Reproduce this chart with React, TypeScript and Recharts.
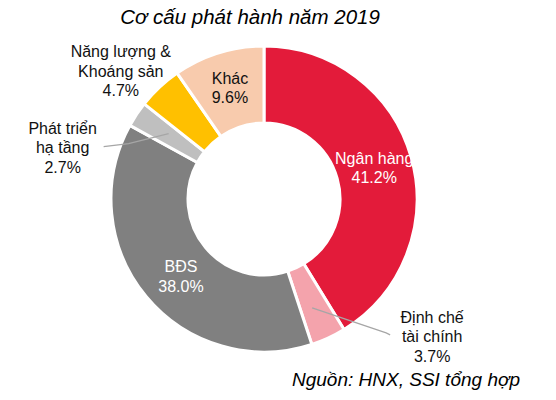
import React from 'react';
import { PieChart, Pie, Cell } from 'recharts';

// Issuance structure 2019, clockwise from 12 o'clock
const categories = ['Ngân hàng', 'Định chế tài chính', 'BĐS', 'Phát triển hạ tầng', 'Năng lượng & Khoáng sản', 'Khác'];
const shares = [41.2, 3.7, 38.0, 2.7, 4.7, 9.6];
const sliceColors = ['#E31B3A', '#F4A3AC', '#808080', '#BFBFBF', '#FFC000', '#F8CBAD'];
const labelLines = [['Ngân hàng'], ['Định chế', 'tài chính'], ['BĐS'], ['Phát triển', 'hạ tầng'], ['Năng lượng &', 'Khoáng sản'], ['Khác']];

const chartData = categories.map((name, i) => ({ name, value: shares[i] }));

type Placement = { dx: number; dy: number; color: string; leader?: [number, number][] };

// label offsets from each slice's mid-ring point
const placements: Placement[] = [
    { dx: 0, dy: 0, color: '#fff' },
    { dx: 120, dy: 34, color: '#111', leader: [[0, 5], [74, 30], [78, 32]] },
    { dx: 5, dy: 4, color: '#fff' },
    { dx: -106, dy: 12, color: '#111', leader: [[0, -2], [-40, 8], [-65, 11]] },
    { dx: -65, dy: -44, color: '#111' },
    { dx: 0, dy: -2, color: '#111' },
];

const FONT = '"Liberation Sans", Arial, sans-serif';
const LINE_H = 19.5;

const renderLabel = (props: any) => {
    const { cx, cy, midAngle, innerRadius, outerRadius, index } = props;
    const RAD = Math.PI / 180;
    const r = (innerRadius + outerRadius) / 2;
    const ax = cx + r * Math.cos(-midAngle * RAD);
    const ay = cy + r * Math.sin(-midAngle * RAD);
    const p = placements[index];
    const tx = ax + p.dx;
    const ty = ay + p.dy;
    const lines = [...labelLines[index], `${shares[index].toFixed(1)}%`];
    const startY = ty - ((lines.length - 1) * LINE_H) / 2;
    return (
        <g key={`lbl-${index}`}>
            {p.leader && (
                <polyline
                    points={p.leader.map(([x, y]) => `${ax + x},${ay + y}`).join(' ')}
                    fill="none"
                    stroke="#A6A6A6"
                    strokeWidth={1.2}
                />
            )}
            <text x={tx} y={startY} textAnchor="middle" fill={p.color} fontSize={16} fontFamily={FONT}>
                {lines.map((l, i) => (
                    <tspan key={i} x={tx} y={startY + i * LINE_H} dy="0.35em">
                        {l}
                    </tspan>
                ))}
            </text>
        </g>
    );
};

export default function App() {
    return (
        <div style={{ position: 'relative', width: 556, height: 400, background: '#fff', fontFamily: FONT }}>
            <style>{'body{margin:0}'}</style>
            <div
                style={{
                    position: 'absolute', left: 0, top: 5, width: 500, textAlign: 'center',
                    fontSize: 20.5, fontStyle: 'italic', lineHeight: '24px', color: '#000',
                }}
            >
                Cơ cấu phát hành năm 2019
            </div>
            <PieChart width={556} height={400} margin={{ top: 0, right: 0, bottom: 0, left: 0 }}>
                <Pie
                    data={chartData}
                    dataKey="value"
                    nameKey="name"
                    cx={264}
                    cy={199}
                    innerRadius={76}
                    outerRadius={153}
                    startAngle={90}
                    endAngle={-270}
                    stroke="#fff"
                    strokeWidth={3}
                    label={renderLabel}
                    labelLine={false}
                    isAnimationActive={false}
                >
                    {chartData.map((d, i) => (
                        <Cell key={d.name} fill={sliceColors[i]} />
                    ))}
                </Pie>
            </PieChart>
            <div
                style={{
                    position: 'absolute', left: 292, top: 368, fontSize: 19, fontStyle: 'italic',
                    lineHeight: '24px', color: '#000', whiteSpace: 'nowrap',
                }}
            >
                Nguồn: HNX, SSI tổng hợp
            </div>
        </div>
    );
}
